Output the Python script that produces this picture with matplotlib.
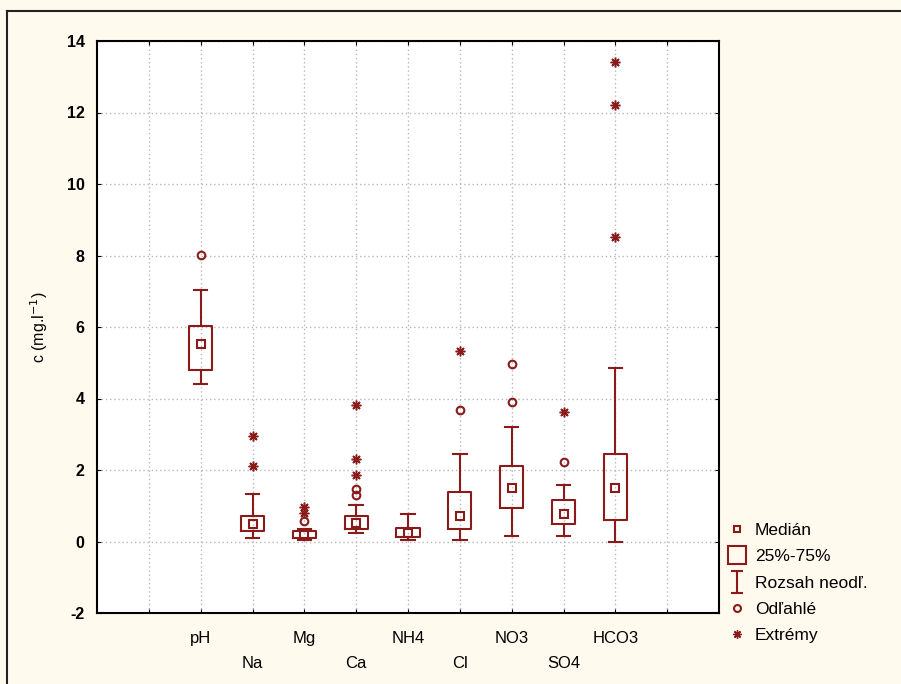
import matplotlib
matplotlib.use("Agg")
import matplotlib.pyplot as plt
from matplotlib.lines import Line2D
from matplotlib.path import Path

# box plot summary (mg/l, pH unitless)
names = ['pH', 'Na', 'Mg', 'Ca', 'NH4', 'Cl', 'NO3', 'SO4', 'HCO3']
whis_lo = [4.40, 0.09, 0.03, 0.25, 0.03, 0.03, 0.15, 0.14, 0.00]
q1 = [4.80, 0.29, 0.11, 0.34, 0.13, 0.34, 0.94, 0.48, 0.60]
median = [5.52, 0.48, 0.19, 0.51, 0.25, 0.70, 1.49, 0.77, 1.49]
q3 = [6.03, 0.71, 0.28, 0.71, 0.37, 1.38, 2.10, 1.15, 2.44]
whis_hi = [7.03, 1.32, 0.36, 1.02, 0.76, 2.44, 3.21, 1.59, 4.85]
outliers = [[8.02], [], [0.58], [1.30, 1.48], [], [3.68], [3.90, 4.97], [2.22], []]
extremes = [[], [2.10, 2.95], [0.80, 0.97], [1.85, 2.30, 3.83], [], [5.33], [], [3.63],
            [8.52, 12.20, 13.42]]

red = '#8B1A1A'
bg = '#FFF9EE'
positions = list(range(2, 2 + len(names)))

plt.rcParams['font.family'] = ['Liberation Sans', 'DejaVu Sans']

fig = plt.figure(figsize=(9.01, 6.84), dpi=100, facecolor=bg)
ax = fig.add_axes([97 / 901, 1 - 613 / 684, 622 / 901, 572 / 684])
ax.set_facecolor('white')

stats = []
for i, n in enumerate(names):
    stats.append(dict(label=n, whislo=whis_lo[i], q1=q1[i], med=median[i],
                      q3=q3[i], whishi=whis_hi[i], fliers=[]))

ax.bxp(stats, positions=positions, widths=0.45, capwidths=0.26, showfliers=False,
       boxprops=dict(color=red, linewidth=1.5),
       whiskerprops=dict(color=red, linewidth=1.5),
       capprops=dict(color=red, linewidth=1.5),
       medianprops=dict(linewidth=0))

ax.plot(positions, median, 's', ms=6, mfc='none', mec=red, mew=1.5, ls='none', zorder=4)
for p, vals in zip(positions, outliers):
    ax.plot([p] * len(vals), vals, 'o', ms=5.5, mfc='none', mec=red, mew=1.5, ls='none', zorder=4)
for p, vals in zip(positions, extremes):
    ax.plot([p] * len(vals), vals, marker=(8, 2, 0), ms=7, color=red, mew=1.1, ls='none', zorder=4)

ax.set_xlim(0, 12)
ax.set_ylim(-2, 14)
ax.set_yticks(range(-2, 15, 2))
ax.set_yticklabels([str(v) for v in range(-2, 15, 2)], fontweight='bold', fontsize=11.5)
ax.set_xticks(range(1, 12))
xl = [''] + [n if i % 2 == 0 else '\n' + n for i, n in enumerate(names)] + ['']
ax.set_xticklabels(xl, fontsize=12, linespacing=1.85)
ax.tick_params(axis='x', pad=13, direction='in', length=3, top=True)
ax.tick_params(axis='y', pad=9, direction='in', length=3, right=True)
for s in ax.spines.values():
    s.set_linewidth(1.5)
ax.grid(True, color='#b8b8b8', linestyle=(0, (1, 2)), linewidth=1)
ax.set_axisbelow(True)

ax.set_ylabel(r'c (mg.l$^{-1}$)', fontsize=11.5, labelpad=12)

# legend
cap = Path([(-0.5, 1), (0.5, 1), (0, 1), (0, -1), (-0.5, -1), (0.5, -1)],
           [Path.MOVETO, Path.LINETO, Path.MOVETO, Path.LINETO, Path.MOVETO, Path.LINETO])
handles = [
    Line2D([], [], ls='none', marker='s', ms=5, mfc='none', mec=red, mew=1.5),
    Line2D([], [], ls='none', marker='s', ms=13, mfc='none', mec=red, mew=1.5),
    Line2D([], [], ls='none', marker=cap, ms=16, mfc='none', mec=red, mew=1.5),
    Line2D([], [], ls='none', marker='o', ms=5, mfc='none', mec=red, mew=1.5),
    Line2D([], [], ls='none', marker=(8, 2, 0), ms=6, color=red, mew=1.0),
]
labels = ['Medián', '25%-75%', 'Rozsah neodľ.', 'Odľahlé', 'Extrémy']
fig.legend(handles, labels, loc='upper left', bbox_to_anchor=(728 / 901, 1 - 523 / 684),
           frameon=False, fontsize=12.5, handlelength=1.0, handletextpad=0.55,
           labelspacing=0.64, borderpad=0, borderaxespad=0)

# outer frame (top and left edges visible)
fig.add_artist(Line2D([7 / 901, 7 / 901], [0, 1 - 11 / 684], color='#222222', lw=1.5,
                      transform=fig.transFigure))
fig.add_artist(Line2D([7 / 901, 1], [1 - 11 / 684, 1 - 11 / 684], color='#222222', lw=1.5,
                      transform=fig.transFigure))

fig.savefig('out.png', dpi=100, facecolor=bg)
